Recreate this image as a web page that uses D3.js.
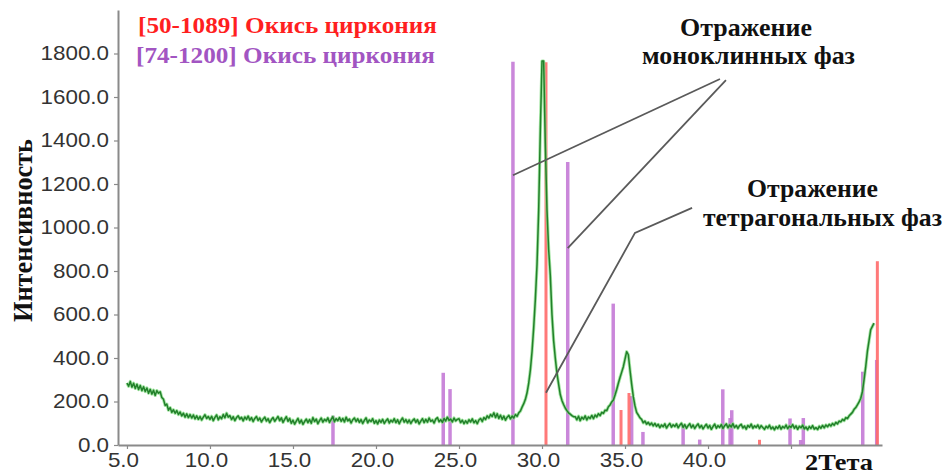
<!DOCTYPE html>
<html>
<head>
<meta charset="utf-8">
<script src="https://cdn.jsdelivr.net/npm/d3@7"></script>
<style>
  body { margin: 0; background: #fff; }
  svg { display: block; }
</style>
</head>
<body>
<svg id="chart" width="946" height="475"></svg>
<script>
// Diffraction pattern: intensity sampled every 0.1° of 2θ starting at 5.0°
const startAngle = 5.0;
const angleStep = 0.1;
const intensity = [
  285, 270, 292, 266, 284, 260, 279, 255, 274, 250,
  268, 246, 262, 238, 256, 234, 252, 228, 250, 238,
  245, 218, 210, 182, 188, 160, 172, 150, 162, 146,
  158, 140, 152, 134, 146, 128, 143, 126, 140, 124,
  138, 120, 134, 118, 131, 115, 128, 139, 122, 131,
  118, 132, 112, 127, 138, 116, 130, 121, 140, 125,
  146, 128, 135, 117, 130, 112, 126, 134, 119, 127,
  111, 129, 118, 133, 114, 126, 108, 122, 131, 113,
  124, 106, 119, 128, 110, 121, 103, 117, 126, 109,
  120, 131, 112, 125, 104, 118, 130, 109, 122, 100,
  114, 96, 110, 122, 101, 115, 95, 108, 119, 103,
  117, 100, 126, 108, 119, 98, 112, 124, 105, 118,
  110, 125, 104, 118, 130, 107, 121, 112, 126, 109,
  122, 106, 128, 111, 119, 101, 116, 124, 108, 120,
  104, 117, 99, 113, 125, 102, 115, 108, 121, 100,
  112, 97, 115, 104, 118, 99, 111, 120, 101, 114,
  106, 121, 103, 116, 98, 113, 124, 105, 117, 102,
  115, 99, 112, 120, 104, 116, 97, 110, 121, 103,
  118, 105, 124, 109, 115, 101, 119, 126, 107, 116,
  104, 122, 110, 128, 113, 119, 106, 124, 111, 118,
  121, 103, 114, 98, 111, 100, 116, 106, 120, 102,
  112, 98, 115, 122, 108, 126, 117, 134, 124, 140,
  131, 148, 126, 144, 122, 137, 118, 133, 114, 128,
  136, 120, 133, 124, 140, 132, 148, 156, 174, 190,
  210, 240, 285, 345, 430, 540, 670, 830, 1080, 1450,
  1765, 1765, 1380, 1080, 900, 780, 600, 480, 400, 330,
  280, 232, 205, 186, 170, 158, 148, 142, 135, 130,
  130, 116, 132, 112, 128, 119, 134, 115, 129, 122,
  136, 121, 138, 129, 144, 135, 150, 145, 160, 158,
  176, 184, 198, 207, 230, 255, 284, 310, 335, 360,
  395, 429, 415, 345, 280, 222, 180, 150, 138, 125,
  118, 102, 110, 96, 104, 92, 101, 88, 99, 86,
  95, 80, 92, 84, 97, 78, 90, 99, 82, 93,
  85, 97, 79, 91, 100, 81, 94, 77, 89, 98,
  80, 92, 76, 88, 97, 79, 90, 74, 86, 95,
  78, 90, 72, 85, 96, 77, 89, 81, 94, 76,
  88, 97, 79, 92, 83, 98, 80, 90, 76, 89,
  95, 78, 87, 73, 90, 82, 96, 77, 88, 81,
  92, 76, 89, 80, 72, 86, 78, 91, 74, 83,
  70, 84, 76, 89, 73, 85, 78, 92, 75, 87,
  81, 94, 77, 88, 72, 86, 79, 91, 74, 83,
  70, 85, 76, 89, 73, 80, 71, 86, 77, 90,
  79, 92, 84, 95, 87, 99, 91, 104, 97, 110,
  106, 118, 112, 126, 121, 134, 142, 150, 164, 172,
  185, 198, 215, 245, 300, 360, 430, 480, 530, 545,
  560
];

// Reference card [50-1089]
const card50Angles  = [30.24, 34.76, 35.24, 43.10, 50.20];
const card50Heights = [1760, 161, 239, 24, 845];

// Reference card [74-1200]
const card74Angles  = [17.41, 24.05, 24.46, 28.25, 31.55, 34.29, 35.40, 36.08, 38.50,
                       39.50, 40.89, 41.33, 41.43, 44.94, 45.58, 45.74, 49.32, 50.16];
const card74Heights = [135, 332, 257, 1762, 1301, 650, 225, 60, 95,
                       25, 256, 124, 160, 122, 23, 124, 337, 391];

const legendLabels = ["[50-1089] Окись циркония", "[74-1200] Окись циркония"];
const xTickValues = [5, 10, 15, 20, 25, 30, 35, 40, 45];
const xTickLabels = ["5.0", "10.0", "15.0", "20.0", "25.0", "30.0", "35.0", "40.0", ""];
const yTickValues = [0, 200, 400, 600, 800, 1000, 1200, 1400, 1600, 1800];

// Leader lines for the phase annotations, in (2θ, intensity) coordinates
const monoclinicLeaders = [
  [[40.72, 1683], [28.25, 1240]],
  [[41.08, 1678], [31.55, 905]]
];
const tetragonalLeader = [[39.04, 1090], [35.60, 975], [30.24, 240]];

const svg = d3.select("#chart");
const x = d3.scaleLinear().domain([4.46, 50.48]).range([118, 882]);
const y = d3.scaleLinear().domain([0, 2000]).range([445, 10]);

const serif = "'Liberation Serif', 'Times New Roman', serif";
const sans = "'Liberation Sans', Arial, sans-serif";

// Stick patterns of the two reference cards
const sticks = svg.append("g");
sticks.selectAll("line.c74")
  .data(card74Angles.map((a, i) => [a, card74Heights[i]]))
  .join("line").attr("class", "c74")
  .attr("x1", d => x(d[0])).attr("x2", d => x(d[0]))
  .attr("y1", y(0)).attr("y2", d => y(d[1]))
  .attr("stroke", "#c47ad6").attr("stroke-width", 3.5).attr("stroke-opacity", 0.9);
sticks.selectAll("line.c50")
  .data(card50Angles.map((a, i) => [a, card50Heights[i]]))
  .join("line").attr("class", "c50")
  .attr("x1", d => x(d[0])).attr("x2", d => x(d[0]))
  .attr("y1", y(0)).attr("y2", d => y(d[1]))
  .attr("stroke", "#ff6a6a").attr("stroke-width", 3).attr("stroke-opacity", 0.9);

// Measured pattern
const line = d3.line()
  .x((d, i) => x(startAngle + i * angleStep))
  .y(d => y(d));
svg.append("path").datum(intensity)
  .attr("d", line).attr("fill", "none")
  .attr("stroke", "#86dc86").attr("stroke-width", 3.2).attr("stroke-opacity", 0.75)
  .attr("stroke-linejoin", "round");
svg.append("path").datum(intensity)
  .attr("d", line).attr("fill", "none")
  .attr("stroke", "#22802a").attr("stroke-width", 1.5)
  .attr("stroke-linejoin", "round");

// Axes
const yAxis = svg.append("g").attr("transform", `translate(${x.range()[0]},0)`)
  .call(d3.axisLeft(y).tickValues(yTickValues).tickSize(4).tickSizeOuter(0).tickPadding(4)
    .tickFormat(d => d.toFixed(1)));
const xAxis = svg.append("g").attr("transform", `translate(0,${y(0)})`)
  .call(d3.axisBottom(x).tickValues(xTickValues).tickSize(4).tickSizeOuter(0).tickPadding(4)
    .tickFormat((d, i) => xTickLabels[i]));

[yAxis, xAxis].forEach(g => {
  g.select(".domain").attr("stroke", "#8a8a8a").attr("stroke-width", 2);
  g.selectAll(".tick line").attr("stroke", "#8a8a8a").attr("stroke-width", 1.2);
  g.selectAll(".tick text")
    .attr("font-family", sans).attr("font-size", 20).attr("fill", "#333");
});
yAxis.selectAll(".tick text").attr("transform", "scale(1.12,1)");
xAxis.selectAll(".tick text").attr("transform", "translate(-4,0) scale(1.12,1)");

// Fitted text helper: left edge, baseline, target width
function label(txt, x0, yb, w, size, color) {
  return svg.append("text")
    .attr("x", x0).attr("y", yb)
    .attr("textLength", w).attr("lengthAdjust", "spacingAndGlyphs")
    .attr("font-family", serif).attr("font-weight", "bold")
    .attr("font-size", size).attr("fill", color)
    .text(txt);
}

// Legend
label(legendLabels[0], 138, 33, 299, 23, "#ff1f1f");
label(legendLabels[1], 136, 63, 299, 23, "#a255c2");

// Annotations
const leaderPath = d3.line().x(d => x(d[0])).y(d => y(d[1]));
monoclinicLeaders.concat([tetragonalLeader]).forEach(pts => {
  svg.append("path").attr("d", leaderPath(pts))
    .attr("fill", "none").attr("stroke", "#5a5a5a").attr("stroke-width", 1.8);
});
label("Отражение", 680, 36, 132, 25, "#111");
label("моноклинных фаз", 642, 64, 213, 25, "#111");
label("Отражение", 747, 197, 131, 25, "#111");
label("тетрагональных фаз", 703, 226, 239, 25, "#111");

// Axis titles
label("2Тета", 805, 470, 68, 24, "#111");
svg.append("text")
  .attr("transform", "translate(32,322) scale(1.15,1) rotate(-90)")
  .attr("x", 0).attr("y", 0)
  .attr("textLength", 183).attr("lengthAdjust", "spacingAndGlyphs")
  .attr("font-family", serif).attr("font-weight", "bold")
  .attr("font-size", 24).attr("fill", "#111")
  .text("Интенсивность");
</script>
</body>
</html>
